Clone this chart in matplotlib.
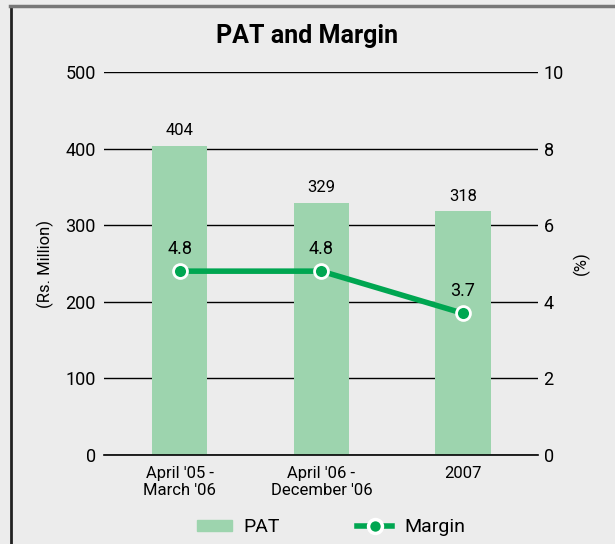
import matplotlib.pyplot as plt
from matplotlib.lines import Line2D
from matplotlib.patches import Patch

# ------------------------------------------------------------
# Data
# ------------------------------------------------------------
periods = ["April '05 -\nMarch '06", "April '06 -\nDecember '06", "2007"]
pat = [404, 329, 318]
margin = [4.8, 4.8, 3.7]

bar_color = "#9dd4ae"
line_color = "#00a651"
bg = "#ececec"

plt.rcParams["font.family"] = ["Roboto", "DejaVu Sans"]

fig = plt.figure(figsize=(6.15, 5.44), dpi=100, facecolor=bg)
# frame: dark left edge, grey top edge
fig.add_artist(Line2D([11 / 615, 11 / 615], [0, 1 - 6 / 544], transform=fig.transFigure,
                      color="#222222", lw=2))
fig.add_artist(Line2D([10 / 615, 1], [1 - 6 / 544, 1 - 6 / 544], transform=fig.transFigure,
                      color="#777777", lw=2.5))

ax = fig.add_axes([104 / 615, 89 / 544, 434 / 615, 383 / 544])
ax.set_facecolor(bg)
x = range(len(periods))

ax.set_axisbelow(True)
ax.bar(x, pat, width=0.39, color=bar_color, zorder=2)
for i, v in zip(x, pat):
    ax.text(i, v + 10, str(v), ha="center", va="bottom", fontsize=12)

ax.set_ylim(0, 500)
ax.set_yticks(range(0, 501, 100))
ax.set_xlim(-0.535, 2.53)
ax.set_xticks(list(x))
ax.set_xticklabels(periods, fontsize=12, linespacing=1.15)
ax.grid(axis="y", color="black", lw=1, zorder=0)
ax.axhline(0, color="black", lw=1.2, clip_on=False, zorder=3)
ax.tick_params(axis="y", length=0, pad=6, labelsize=13)
ax.tick_params(axis="x", length=0, pad=8)
for s in ax.spines.values():
    s.set_visible(False)
ax.set_ylabel("(Rs. Million)", fontsize=12, labelpad=8)

ax2 = ax.twinx()
ax2.plot(list(x), margin, color=line_color, lw=4, marker="o", markersize=10,
         markerfacecolor=line_color, markeredgecolor="white", markeredgewidth=2, zorder=5)
for i, v in zip(x, margin):
    ax2.text(i, v + 0.35, f"{v}", ha="center", va="bottom", fontsize=13)
ax2.set_ylim(0, 10)
ax2.set_yticks(range(0, 11, 2))
ax2.tick_params(axis="y", length=0, pad=4, labelsize=13)
for s in ax2.spines.values():
    s.set_visible(False)
ax2.set_ylabel("(%)", fontsize=12, labelpad=6)

fig.text(0.5, 1 - 36 / 544, "PAT and Margin", ha="center", va="center",
         fontsize=18, fontweight="bold")

handles = [Patch(color=bar_color),
           Line2D([0], [0], color=line_color, lw=4, marker="o", markersize=10,
                  markerfacecolor=line_color, markeredgecolor="white", markeredgewidth=2.5)]
fig.legend(handles, ["PAT", "Margin"], loc="center", bbox_to_anchor=(0.538, 1 - 527 / 544),
           ncol=2, frameon=False, fontsize=14, columnspacing=4.0, handlelength=1.8,
           handletextpad=0.6, handleheight=0.5)

fig.savefig("out.png", dpi=100, facecolor=bg)
